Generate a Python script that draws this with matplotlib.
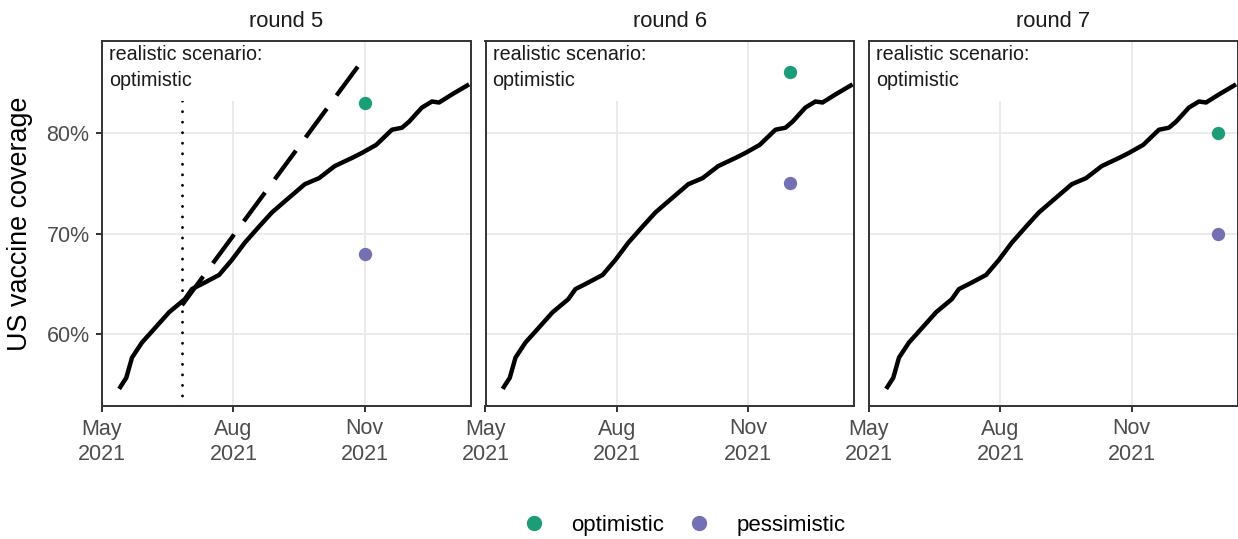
import datetime as dt
import matplotlib
matplotlib.use("Agg")
import matplotlib.pyplot as plt
from matplotlib.lines import Line2D
from matplotlib.patches import Rectangle

plt.rcParams['font.family'] = ['Liberation Sans', 'DejaVu Sans']

# ---- data ----
obs_dates = ["2021-05-13", "2021-05-18", "2021-05-22", "2021-05-29", "2021-06-05",
             "2021-06-17", "2021-06-28", "2021-07-03", "2021-07-10", "2021-07-22",
             "2021-07-31", "2021-08-09", "2021-08-19", "2021-08-28", "2021-09-06",
             "2021-09-20", "2021-09-30", "2021-10-11", "2021-10-23", "2021-10-30",
             "2021-11-09", "2021-11-20", "2021-11-27", "2021-12-02", "2021-12-11",
             "2021-12-18", "2021-12-23", "2022-01-01", "2022-01-13"]
obs_values = [54.6, 55.7, 57.7, 59.2, 60.3,
              62.2, 63.5, 64.5, 65.0, 65.9,
              67.4, 69.1, 70.7, 72.1, 73.2,
              74.9, 75.5, 76.7, 77.5, 78.0,
              78.8, 80.3, 80.5, 81.1, 82.5,
              83.1, 83.0, 83.8, 84.8]

rounds = ["round 5", "round 6", "round 7"]
target_dates = ["2021-11-01", "2021-11-30", "2021-12-31"]
optimistic = [83, 86, 80]
pessimistic = [68, 75, 70]

# round 5 realistic projection (dashed) and its start (dotted)
proj_dates = ["2021-06-26", "2021-11-01"]
proj_values = [62.9, 87.5]
proj_start = "2021-06-26"

scenario_label = "realistic scenario:\noptimistic"
x_ticks = ["2021-05-01", "2021-08-01", "2021-11-01"]
x_ticklabels = ["May\n2021", "Aug\n2021", "Nov\n2021"]
y_ticks = [60, 70, 80]
y_ticklabels = ["60%", "70%", "80%"]

col_opt = "#1B9E77"
col_pes = "#7570B3"


def d(s):
    return dt.datetime.strptime(s, "%Y-%m-%d")


W, H = 1238, 539
fig = plt.figure(figsize=(W / 100, H / 100), dpi=100)

lefts = [102, 485.5, 869]
pw, ph, pb = 368.5, 365, 133
xlim = (d("2021-05-01"), d("2022-01-14"))
ylim = (52.9, 89.1)

axes = []
for i, (title, td, o, p) in enumerate(zip(rounds, target_dates, optimistic, pessimistic)):
    ax = fig.add_axes([lefts[i] / W, pb / H, pw / W, ph / H])
    axes.append(ax)
    ax.set_xlim(*xlim)
    ax.set_ylim(*ylim)
    ax.set_axisbelow(True)
    ax.grid(True, color="#EBEBEB", lw=1.4)
    for s in ax.spines.values():
        s.set_color("#333333")
        s.set_linewidth(1.4)
    ax.set_xticks([d(t) for t in x_ticks])
    ax.set_xticklabels(x_ticklabels, linespacing=1.3)
    ax.set_yticks(y_ticks)
    if i == 0:
        ax.set_yticklabels(y_ticklabels)
        ax.tick_params(axis="y", left=True)
    else:
        ax.tick_params(axis="y", left=False, labelleft=False)
    ax.tick_params(axis="both", direction="out", length=4.5, width=1.4, color="#333333",
                   labelsize=15.5, labelcolor="#4D4D4D", pad=4.5)
    ax.set_title(title, fontsize=15.8, color="#1A1A1A", pad=10)

    # label box (white) covering grid
    ax.add_patch(Rectangle((0, 0.836), 0.453, 0.164, transform=ax.transAxes,
                           facecolor="white", edgecolor="none", zorder=1))
    ax.text(0.019, 0.99, scenario_label, transform=ax.transAxes, ha="left", va="top",
            fontsize=14.2, color="#1A1A1A", linespacing=1.5, zorder=4)

    if i == 0:
        ax.axvline(d(proj_start), color="black", lw=2.1, ls=(0, (0.01, 3.6)),
                   dash_capstyle="round", zorder=0.8)
        ax.plot([d(t) for t in proj_dates], proj_values, color="black", lw=3.1,
                dashes=(8.3, 3.8), dash_capstyle="butt", zorder=2)

    ax.plot([d(t) for t in obs_dates], obs_values, color="black", lw=3.2,
            solid_joinstyle="round", solid_capstyle="butt", zorder=3)
    ax.scatter([d(td)], [o], s=92, color=col_opt, zorder=4, linewidths=0)
    ax.scatter([d(td)], [p], s=92, color=col_pes, zorder=4, linewidths=0)

axes[0].set_ylabel("US vaccine coverage", fontsize=19.4, color="black")
axes[0].yaxis.set_label_coords((33.5 - 102) / pw, 0.5)

handles = [Line2D([], [], marker="o", ls="", color=col_opt, markersize=10),
           Line2D([], [], marker="o", ls="", color=col_pes, markersize=10)]
fig.legend(handles, ["optimistic", "pessimistic"], loc="center",
           bbox_to_anchor=(684 / W, 14 / H), ncol=2, frameon=False, fontsize=16,
           handlelength=1.0, handletextpad=1.17, columnspacing=1.08)

fig.savefig("out.png", dpi=100)
